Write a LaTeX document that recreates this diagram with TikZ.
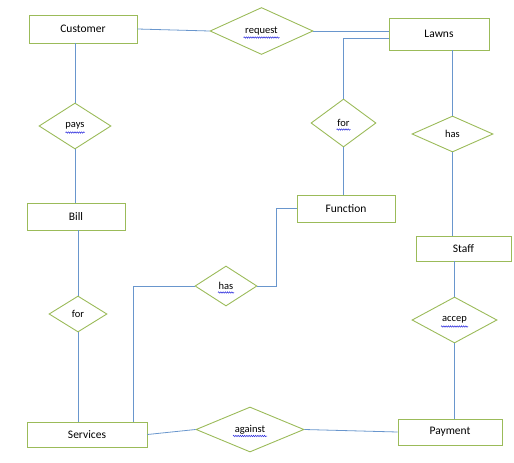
\documentclass[tikz,border=0pt]{standalone}
\usepackage{fontspec}
\setmainfont{Carlito}
\usepackage{tikz}
\usetikzlibrary{shapes.geometric,decorations.pathmorphing}

\definecolor{boxgreen}{RGB}{155,187,89}
\definecolor{linkblue}{RGB}{105,150,205}
\definecolor{spellblue}{RGB}{40,40,220}

\tikzset{
  entity/.style={draw=boxgreen, line width=0.9pt, rectangle, inner sep=0pt,
    font=\fontsize{11.5}{13}\selectfont},
  relation/.style={draw=boxgreen, line width=0.9pt, diamond, inner sep=0pt,
    font=\fontsize{10.5}{12}\selectfont},
  link/.style={draw=linkblue, line width=0.8pt},
  spellmark/.style={draw=spellblue, line width=0.5pt, decorate,
    decoration={snake, amplitude=0.7pt, segment length=2.2pt}}
}
% wavy spell-check line under a relation label: node, half width
\newcommand\spellline[2]{\draw[spellmark] ([shift={(-#2,6.5)}]#1.center) -- ([shift={(#2,6.5)}]#1.center);}

\begin{document}
\begin{tikzpicture}[x=1pt,y=-1pt]
    \useasboundingbox (0,0) rectangle (514,463);
    % entities
    \node[entity, minimum width=108, minimum height=28] (customer) at (83,29) {Customer};
    \node[entity, minimum width=100, minimum height=32] (lawns) at (439,34) {Lawns};
    \node[entity, minimum width=98, minimum height=27] (function) at (346,208.5) {Function};
    \node[entity, minimum width=98, minimum height=27] (bill) at (76,216.5) {Bill};
    \node[entity, minimum width=95, minimum height=25] (staff) at (463.5,248.5) {Staff};
    \node[entity, minimum width=120, minimum height=25] (services) at (87,434.5) {Services};
    \node[entity, minimum width=104, minimum height=26] (payment) at (450,432) {Payment};
    % relations
    \node[relation, minimum width=103, minimum height=47] (request) at (261.5,31) {request};
    \node[relation, minimum width=72, minimum height=46] (pays) at (75,126) {pays};
    \node[relation, minimum width=65, minimum height=48] (forlawn) at (343.5,123) {for};
    \node[relation, minimum width=81, minimum height=36] (hasstaff) at (452.5,134) {has};
    \node[relation, minimum width=58, minimum height=36] (forbill) at (78,314) {for};
    \node[relation, minimum width=62, minimum height=40] (hasserv) at (226,286) {has};
    \node[relation, minimum width=108, minimum height=45] (against) at (250,429.5) {against};
    \node[relation, minimum width=85, minimum height=46] (accep) at (454.5,320) {accep};
    % spell-check marks
    \spellline{request}{18}
    \spellline{pays}{9.5}
    \spellline{forlawn}{7}
    \spellline{hasserv}{8}
    \spellline{against}{17}
    \spellline{accep}{13.5}
    % bends
    \coordinate (lawnsout) at (389,38);
    \coordinate (funcbend) at (276,286);
    \coordinate (servbend) at (133,286);
    % links
    \draw[link] (customer.east) -- (request.west);
    \draw[link] (request.east) -- (request.east -| lawns.west);
    \draw[link] (lawnsout) -| (forlawn.north);
    \draw[link] (forlawn.south) -- (forlawn.south |- function.north);
    \draw[link] (function.west) -| (funcbend) -- (hasserv.east);
    \draw[link] (hasserv.west) -- (servbend) -- (servbend |- services.north);
    \draw[link] (pays.north |- customer.south) -- (pays.north);
    \draw[link] (pays.south) -- (pays.south |- bill.north);
    \draw[link] (forbill.north |- bill.south) -- (forbill.north);
    \draw[link] (forbill.south) -- (forbill.south |- services.north);
    \draw[link] (services.east) -- (against.west);
    \draw[link] (against.east) -- (payment.west);
    \draw[link] (hasstaff.north |- lawns.south) -- (hasstaff.north);
    \draw[link] (hasstaff.south) -- (hasstaff.south |- staff.north);
    \draw[link] (accep.north |- staff.south) -- (accep.north);
    \draw[link] (accep.south) -- (accep.south |- payment.north);
\end{tikzpicture}
\end{document}
